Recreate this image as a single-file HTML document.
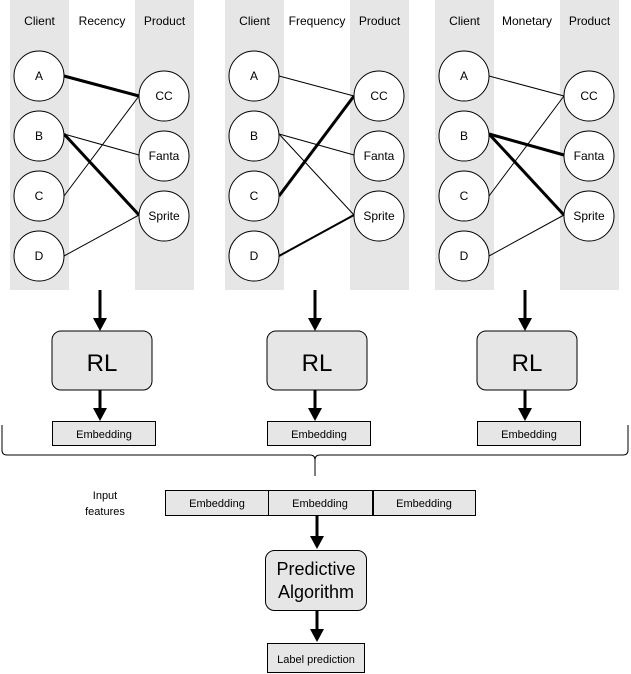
<!DOCTYPE html>
<html><head><style>
body{margin:0;background:#fff;}
svg{display:block;font-family:"Liberation Sans",Arial,sans-serif;}
</style></head><body>
<svg width="631" height="674" viewBox="0 0 631 674" xmlns="http://www.w3.org/2000/svg">
<defs>
<g id="cols">
<rect x="10" y="0" width="59" height="290" fill="#e6e6e6"/>
<rect x="135" y="0" width="59" height="290" fill="#e6e6e6"/>
<text x="39.5" y="25" font-size="12" text-anchor="middle">Client</text>
<text x="164.5" y="25" font-size="12" text-anchor="middle">Product</text>
</g>
<g id="nodes" fill="#fff" stroke="#000" stroke-width="1">
<circle cx="39" cy="76" r="25"/><circle cx="39" cy="136" r="25"/><circle cx="39" cy="196" r="25"/><circle cx="39" cy="256" r="25"/>
<circle cx="164" cy="96" r="25"/><circle cx="164" cy="156" r="25"/><circle cx="164" cy="216" r="25"/>
</g>
<g id="labels" font-size="12" text-anchor="middle">
<text x="39" y="80">A</text><text x="39" y="140">B</text><text x="39" y="200">C</text><text x="39" y="260">D</text>
<text x="164" y="100">CC</text><text x="164" y="160">Fanta</text><text x="164" y="220">Sprite</text>
</g>
<g id="lower">
<line x1="100" y1="290" x2="100" y2="320" stroke="#000" stroke-width="3"/>
<polygon points="93,318 107,318 100,331" fill="#000"/>
<rect x="52" y="331" width="100" height="59" rx="9" fill="#e6e6e6" stroke="#000"/>
<text x="102" y="371" font-size="24" text-anchor="middle">RL</text>
<line x1="100" y1="390" x2="100" y2="410" stroke="#000" stroke-width="3"/>
<polygon points="93,408 107,408 100,421" fill="#000"/>
<rect x="52.5" y="421.5" width="103" height="24" fill="#e6e6e6" stroke="#000"/>
<text x="104" y="438" font-size="11" text-anchor="middle">Embedding</text>
</g>
</defs>

<!-- panel 1 -->
<g>
<use href="#cols"/>
<text x="102" y="25" font-size="12" text-anchor="middle">Recency</text>
<g stroke="#000" fill="none">
<line x1="64" y1="76" x2="139" y2="96" stroke-width="3"/>
<line x1="64" y1="196" x2="139" y2="96"/>
<line x1="64" y1="134" x2="139" y2="155"/>
<line x1="64" y1="134" x2="139" y2="215" stroke-width="3"/>
<line x1="64" y1="256" x2="139" y2="215"/>
</g>
<use href="#nodes"/><use href="#labels"/><use href="#lower"/>
</g>
<!-- panel 2 -->
<g transform="translate(215,0)">
<use href="#cols"/>
<text x="102" y="25" font-size="12" text-anchor="middle">Frequency</text>
<g stroke="#000" fill="none">
<line x1="64" y1="76" x2="139" y2="96"/>
<line x1="64" y1="196" x2="139" y2="96" stroke-width="3"/>
<line x1="64" y1="134" x2="139" y2="155"/>
<line x1="64" y1="134" x2="139" y2="215"/>
<line x1="64" y1="256" x2="139" y2="215" stroke-width="2"/>
</g>
<use href="#nodes"/><use href="#labels"/><use href="#lower"/>
</g>
<!-- panel 3 -->
<g transform="translate(425,0)">
<use href="#cols"/>
<text x="102" y="25" font-size="12" text-anchor="middle">Monetary</text>
<g stroke="#000" fill="none">
<line x1="64" y1="76" x2="139" y2="96"/>
<line x1="64" y1="196" x2="139" y2="96"/>
<line x1="64" y1="134" x2="139" y2="155" stroke-width="3"/>
<line x1="64" y1="134" x2="139" y2="215" stroke-width="3"/>
<line x1="64" y1="256" x2="139" y2="215"/>
</g>
<use href="#nodes"/><use href="#labels"/><use href="#lower"/>
</g>

<!-- brace -->
<path d="M2,425 L2,450 Q2,455 7,455 L310,455 Q315,455 315,460 Q315,455 320,455 L623,455 Q628,455 628,450 L628,425" fill="none" stroke="#000"/>
<line x1="315" y1="460" x2="315" y2="476" stroke="#000"/>

<text x="105" y="499" font-size="11" text-anchor="middle">Input</text>
<text x="105" y="515" font-size="11" text-anchor="middle">features</text>
<g fill="#e6e6e6" stroke="#000">
<rect x="165.5" y="490.5" width="103" height="25"/>
<rect x="268.5" y="490.5" width="104" height="25"/>
<rect x="373.5" y="490.5" width="102" height="25"/>
</g>
<g font-size="11" text-anchor="middle">
<text x="217" y="507">Embedding</text><text x="320" y="507">Embedding</text><text x="424" y="507">Embedding</text>
</g>

<line x1="317" y1="515" x2="317" y2="538" stroke="#000" stroke-width="3"/>
<polygon points="310,536 324,536 317,549" fill="#000"/>
<rect x="265.5" y="550.5" width="101" height="60" rx="9" fill="#e6e6e6" stroke="#000"/>
<text x="316" y="575" font-size="18" text-anchor="middle">Predictive</text>
<text x="316" y="598" font-size="18" text-anchor="middle">Algorithm</text>
<line x1="317" y1="611" x2="317" y2="631" stroke="#000" stroke-width="3"/>
<polygon points="310,629 324,629 317,642" fill="#000"/>
<rect x="267.5" y="643.5" width="97" height="29" fill="#e6e6e6" stroke="#000"/>
<text x="316" y="663" font-size="11" text-anchor="middle">Label prediction</text>
</svg>
</body></html>
